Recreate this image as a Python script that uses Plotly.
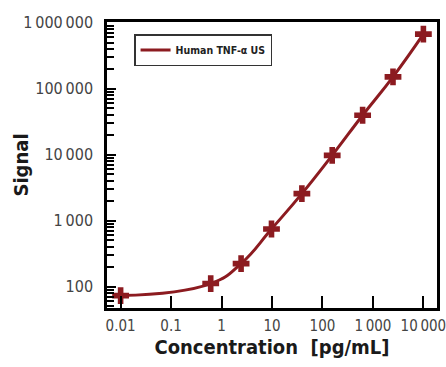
import plotly.graph_objects as go

# ---- data ----
conc = [0.01, 0.61, 2.44, 9.77, 39.1, 156, 625, 2500, 10000]
signal = [73, 111, 223, 745, 2560, 9750, 39500, 151000, 671000]
series_name = "Human TNF-\u03b1 US"

x_tickvals = [0.01, 0.1, 1, 10, 100, 1000, 10000]
x_ticktext = ["0.01", "0.1", "1", "10", "100", "1\u2009000", "10\u2009000"]
y_tickvals = [100, 1000, 10000, 100000, 1000000]
y_ticktext = ["100", "1\u2009000", "10\u2009000", "100\u2009000", "1\u2009000\u2009000"]

x_title = "Concentration \u00a0[pg/mL]"
y_title = "Signal"

# ---- style ----
RED = "#8c1b20"
FONT = "DejaVu Sans Condensed"
TICKCOL = "#444444"

fig = go.Figure()
fig.add_trace(go.Scatter(
    x=conc, y=signal, mode="lines", name=series_name,
    line=dict(color=RED, width=3, shape="spline", smoothing=1.3),
    showlegend=True,
))
fig.add_trace(go.Scatter(
    x=conc, y=signal, mode="markers", name=series_name,
    marker=dict(symbol="cross", size=14, color=RED, line=dict(width=0)),
    showlegend=False,
))

fig.update_layout(
    width=446, height=367,
    margin=dict(l=107, r=9, t=22, b=59, autoexpand=False),
    paper_bgcolor="white", plot_bgcolor="white",
    font=dict(family=FONT, size=16, color=TICKCOL),
    legend=dict(
        x=0.082, y=0.958, xanchor="left", yanchor="top",
        bgcolor="white", bordercolor="#333333", borderwidth=1.5,
        font=dict(family=FONT, size=10.5, color="#222222", weight="bold"),
        itemwidth=30,
    ),
    annotations=[dict(
        text=y_title, xref="paper", yref="paper", x=-0.262, y=0.5,
        xanchor="center", yanchor="middle", textangle=-90, showarrow=False,
        font=dict(family=FONT, size=20, color="#1a1a1a", weight="bold"),
    )],
)

fig.update_xaxes(
    type="log", range=[-2.27, 4.27], automargin=False,
    tickvals=x_tickvals, ticktext=x_ticktext,
    ticks="inside", ticklen=12, tickwidth=2, tickcolor="black",
    showline=True, linecolor="black", linewidth=2.5, mirror=True,
    showgrid=False, zeroline=False,
    ticklabelstandoff=2, ticklabeloverflow="allow",
    tickfont=dict(family=FONT, size=15, color=TICKCOL),
    title=dict(text=x_title, standoff=4,
               font=dict(family=FONT, size=20, color="#1a1a1a", weight="bold")),
)
fig.update_yaxes(
    type="log", range=[1.675, 6.01], automargin=False,
    tickvals=y_tickvals, ticktext=y_ticktext,
    ticks="inside", ticklen=9, tickwidth=2, tickcolor="black",
    minor=dict(ticks="inside", ticklen=7, tickwidth=1.5, tickcolor="black", dtick="D1", showgrid=False),
    showline=True, linecolor="black", linewidth=2.5, mirror=True,
    showgrid=False, zeroline=False,
    ticklabelstandoff=8,
    tickfont=dict(family=FONT, size=16, color=TICKCOL),
)

fig.write_html("out.html", config={"displayModeBar": False},
               post_script="document.body.style.margin='0px';")
